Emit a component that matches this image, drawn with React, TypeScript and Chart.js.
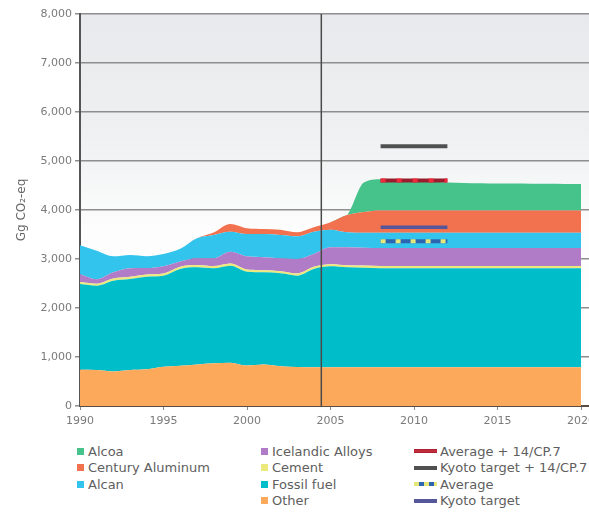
import React, { useEffect, useRef } from 'react';
import { Chart, registerables } from 'chart.js';

Chart.register(...registerables);

// ---------- data ----------
const YEARS = [
  1990, 1991, 1992, 1993, 1994, 1995, 1996, 1997, 1998, 1999,
  2000, 2001, 2002, 2003, 2004, 2005, 2006, 2007, 2008, 2009,
  2010, 2011, 2012, 2013, 2014, 2015, 2016, 2017, 2018, 2019, 2020,
];

const OTHER = [
  740, 735, 705, 735, 750, 800, 820, 845, 870, 885,
  825, 845, 810, 795, 790, 790, 790, 790, 790, 790,
  790, 790, 790, 790, 790, 790, 790, 790, 790, 790, 790,
];
const FOSSIL_FUEL = [
  1750, 1721, 1853, 1857, 1889, 1860, 1976, 1985, 1940, 1979,
  1917, 1883, 1897, 1865, 2006, 2060, 2040, 2030, 2020, 2020,
  2020, 2020, 2020, 2020, 2020, 2020, 2020, 2020, 2020, 2020, 2020,
];
const CEMENT = [
  40, 40, 42, 44, 45, 46, 48, 48, 46, 46,
  44, 42, 43, 45, 44, 45, 45, 45, 45, 45,
  45, 45, 45, 45, 45, 45, 45, 45, 45, 45, 45,
];
const ICELANDIC_ALLOYS = [
  159, 92, 128, 175, 130, 145, 106, 139, 159, 240,
  269, 264, 264, 295, 262, 343, 363, 365, 370, 370,
  370, 370, 370, 370, 370, 370, 370, 370, 370, 370, 370,
];
const ALCAN = [
  592, 578, 326, 272, 244, 252, 258, 408, 476, 408,
  456, 476, 476, 463, 456, 361, 307, 305, 310, 310,
  310, 310, 310, 310, 310, 310, 310, 310, 310, 310, 310,
];
const CENTURY_ALUMINUM = [
  0, 0, 0, 0, 0, 0, 0, 0, 50, 156,
  116, 102, 109, 82, 88, 149, 353, 425, 455, 455,
  455, 455, 455, 455, 455, 455, 455, 455, 455, 455, 455,
];
const ALCOA = [
  0, 0, 0, 0, 0, 0, 0, 0, 0, 0,
  0, 0, 0, 0, 0, 0, 0, 600, 640, 625,
  610, 590, 570, 560, 555, 550, 550, 545, 545, 540, 540,
];

// commitment period reference levels (2008-2012)
const COMMIT_YEARS = [2008, 2012];
const KYOTO_TARGET_PLUS = 5300;
const AVERAGE_PLUS = 4600;
const KYOTO_TARGET = 3650;
const AVERAGE = 3360;

const PROJECTION_YEAR = 2004.45;

const X_TICKS = [1990, 1995, 2000, 2005, 2010, 2015, 2020];
const Y_MAX = 8000;
const Y_STEP = 1000;
const Y_TITLE = 'Gg CO₂-eq';

// ---------- styles ----------
const C = {
  alcoa: '#46c28b',
  century: '#f2714f',
  alcan: '#33c4ee',
  icelandic: '#b17cc7',
  cement: '#ece97c',
  fossil: '#00bdca',
  other: '#fca95b',
  kyotoPlus: '#505050',
  avgPlusBase: '#9a1d2e',
  avgPlusDot: '#ee2a3c',
  kyoto: '#55579a',
  avgBase: '#2c66b0',
  avgDot: '#e6e77a',
};

const FONT = "'DejaVu Sans', 'Liberation Sans', sans-serif";

const bgPlugin = {
  id: 'plotBg',
  beforeDraw(chart: any) {
    const { ctx, chartArea: a } = chart;
    if (!a) return;
    const g = ctx.createLinearGradient(0, a.top, 0, a.bottom);
    g.addColorStop(0, '#e7e9ec');
    g.addColorStop(0.3, '#eef0f1');
    g.addColorStop(0.55, '#fdfdfd');
    g.addColorStop(1, '#ffffff');
    ctx.save();
    ctx.fillStyle = g;
    ctx.fillRect(a.left, a.top, a.right - a.left, a.bottom - a.top);
    ctx.restore();
  },
};

const toPts = (arr: number[]) => YEARS.map((x, i) => ({ x, y: arr[i] }));
const refPts = (v: number) => COMMIT_YEARS.map((x) => ({ x, y: v }));

type LegendItem = { label: string; kind: 'box' | 'line'; style: any };

const LEGEND_COLS: { left: number; items: LegendItem[] }[] = [
  {
    left: 77,
    items: [
      { label: 'Alcoa', kind: 'box', style: { background: C.alcoa } },
      { label: 'Century Aluminum', kind: 'box', style: { background: C.century } },
      { label: 'Alcan', kind: 'box', style: { background: C.alcan } },
    ],
  },
  {
    left: 261,
    items: [
      { label: 'Icelandic Alloys', kind: 'box', style: { background: C.icelandic } },
      { label: 'Cement', kind: 'box', style: { background: C.cement } },
      { label: 'Fossil fuel', kind: 'box', style: { background: C.fossil } },
      { label: 'Other', kind: 'box', style: { background: C.other } },
    ],
  },
  {
    left: 414,
    items: [
      {
        label: 'Average + 14/CP.7',
        kind: 'line',
        style: { background: `linear-gradient(${C.avgPlusBase}, #d0303e, ${C.avgPlusBase})` },
      },
      { label: 'Kyoto target + 14/CP.7', kind: 'line', style: { background: C.kyotoPlus } },
      {
        label: 'Average',
        kind: 'line',
        style: {
          background: `repeating-linear-gradient(90deg, ${C.avgDot} 0 5px, ${C.avgBase} 5px 10px)`,
        },
      },
      { label: 'Kyoto target', kind: 'line', style: { background: C.kyoto } },
    ],
  },
];
const LEGEND_ROWS = [443, 459.5, 476, 492.5];

export default function App() {
  const ref = useRef<HTMLCanvasElement>(null);

  useEffect(() => {
    if (!ref.current) return;
    const areaDefs = [
      { label: 'Other', data: OTHER, color: C.other },
      { label: 'Fossil fuel', data: FOSSIL_FUEL, color: C.fossil },
      { label: 'Cement', data: CEMENT, color: C.cement },
      { label: 'Icelandic Alloys', data: ICELANDIC_ALLOYS, color: C.icelandic },
      { label: 'Alcan', data: ALCAN, color: C.alcan },
      { label: 'Century Aluminum', data: CENTURY_ALUMINUM, color: C.century },
      { label: 'Alcoa', data: ALCOA, color: C.alcoa },
    ];
    const areas = areaDefs.map((d, i) => ({
      label: d.label,
      data: toPts(d.data),
      backgroundColor: d.color,
      borderColor: d.color,
      borderWidth: 0,
      pointRadius: 0,
      fill: i === 0 ? 'origin' : '-1',
      stack: 'areas',
      order: 5,
      cubicInterpolationMode: 'monotone',
    }));

    const line = (label: string, v: number, color: string, width: number, order: number, dash?: number[]) => ({
      label,
      data: refPts(v),
      borderColor: color,
      backgroundColor: color,
      borderWidth: width,
      borderDash: dash || [],
      borderCapStyle: 'butt',
      pointRadius: 0,
      fill: false,
      stack: 'ref-' + label,
      order,
      tension: 0,
    });

    const datasets: any[] = [
      ...areas,
      {
        label: 'projection',
        data: [
          { x: PROJECTION_YEAR, y: 0 },
          { x: PROJECTION_YEAR, y: Y_MAX },
        ],
        borderColor: '#4a4a4a',
        borderWidth: 1.5,
        pointRadius: 0,
        fill: false,
        stack: 'vline',
        order: 3,
        tension: 0,
      },
      line('Kyoto target + 14/CP.7', KYOTO_TARGET_PLUS, C.kyotoPlus, 4, 1),
      line('Average + 14/CP.7', AVERAGE_PLUS, C.avgPlusBase, 4, 1),
      line('Average + 14/CP.7 dots', AVERAGE_PLUS, C.avgPlusDot, 4, 0, [5, 11]),
      line('Kyoto target', KYOTO_TARGET, C.kyoto, 3.5, 1),
      line('Average', AVERAGE, C.avgBase, 4, 1),
      line('Average dots', AVERAGE, C.avgDot, 4, 0, [5, 10]),
    ];

    const tickFont = { family: FONT, size: 11 };
    const chart = new Chart(ref.current, {
      type: 'line',
      data: { datasets },
      plugins: [bgPlugin],
      options: {
        animation: false,
        responsive: false,
        devicePixelRatio: 1,
        layout: { padding: { top: 14, left: 0, right: 0, bottom: 0 } },
        plugins: { legend: { display: false }, tooltip: { enabled: false } },
        scales: {
          x: {
            type: 'linear',
            min: 1990,
            max: 2021.1,
            afterBuildTicks: (s: any) => {
              s.ticks = X_TICKS.map((v) => ({ value: v }));
            },
            afterFit: (s: any) => {
              s.height = 29;
            },
            grid: { drawOnChartArea: false, drawTicks: true, tickLength: 4, color: '#8a8a8a' },
            border: { display: true, color: '#5a4c40', width: 2 },
            ticks: {
              color: '#7a7a7a',
              font: tickFont,
              padding: 5,
              maxRotation: 0,
              autoSkip: false,
              callback: (v: any) => String(v),
            },
          },
          y: {
            stacked: true,
            min: 0,
            max: Y_MAX,
            afterFit: (s: any) => {
              s.width = 80;
            },
            grid: { color: '#8e8e8e', lineWidth: 1.5, tickLength: 5 },
            border: { display: true, color: '#555', width: 2 },
            ticks: {
              stepSize: Y_STEP,
              color: '#7a7a7a',
              font: tickFont,
              padding: 3,
              callback: (v: any) => Number(v).toLocaleString('en-US'),
            },
            title: {
              display: true,
              text: Y_TITLE,
              color: '#666',
              font: { family: FONT, size: 12 },
              padding: { top: 15, bottom: 0 },
            },
          },
        },
      } as any,
    });
    return () => chart.destroy();
  }, []);

  return (
    <div
      style={{
        position: 'absolute',
        left: 0,
        top: 0,
        width: 589,
        height: 513,
        overflow: 'hidden',
        background: '#fff',
        fontFamily: FONT,
      }}
    >
      <canvas ref={ref} width={600} height={435} style={{ display: 'block', width: 600, height: 435 }} />
      {LEGEND_COLS.map((col, ci) =>
        col.items.map((it, ri) => (
          <div
            key={ci + '-' + ri}
            style={{
              position: 'absolute',
              left: col.left,
              top: LEGEND_ROWS[ri],
              height: 16,
              display: 'flex',
              alignItems: 'center',
              whiteSpace: 'nowrap',
              fontSize: 13,
              color: '#5e5e5e',
            }}
          >
            {it.kind === 'box' ? (
              <span style={{ display: 'inline-block', width: 7, height: 7, marginRight: 4, ...it.style }} />
            ) : (
              <span style={{ display: 'inline-block', width: 23, height: 4, marginRight: 3, ...it.style }} />
            )}
            <span>{it.label}</span>
          </div>
        ))
      )}
    </div>
  );
}
